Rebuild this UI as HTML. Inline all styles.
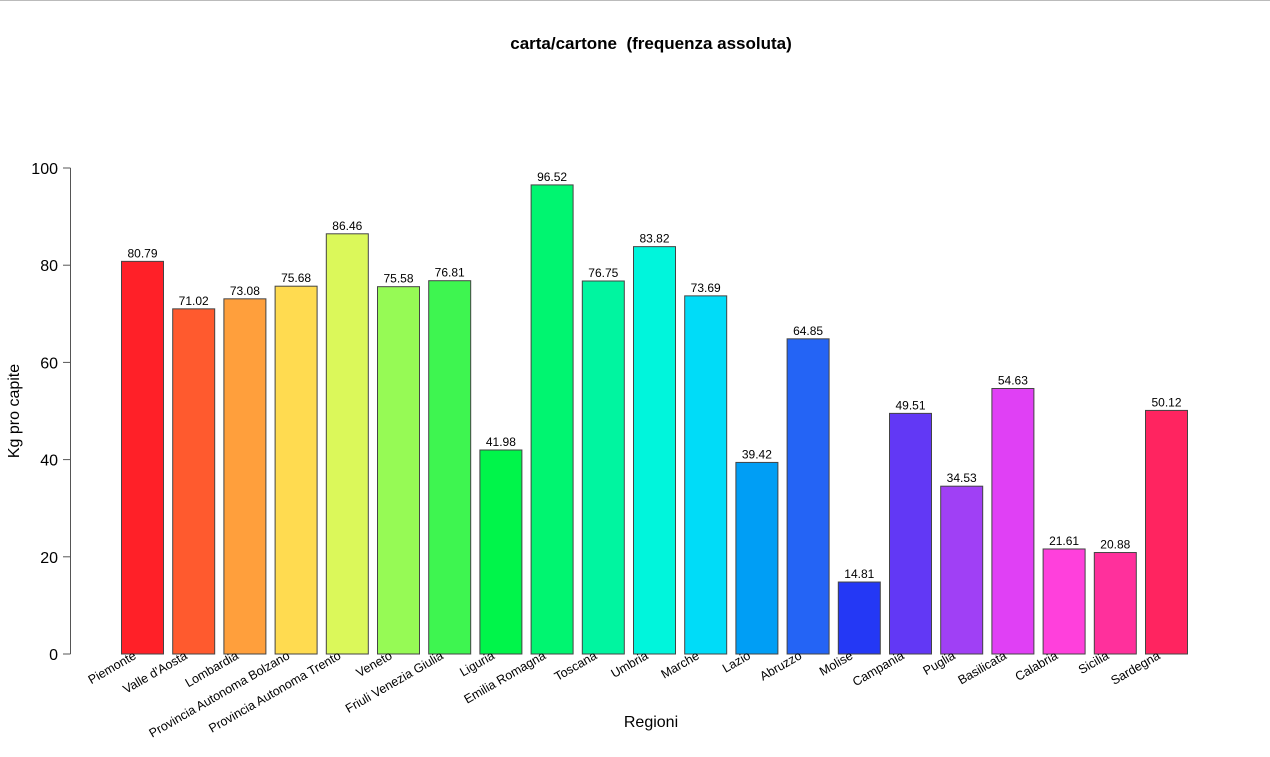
<!DOCTYPE html>
<html><head><meta charset="utf-8"><style>
html,body{margin:0;padding:0;background:#fff;}
body{width:1270px;height:752px;overflow:hidden;font-family:"Liberation Sans",Arial,sans-serif;}
</style></head><body>
<svg id="chart" width="1270" height="752" xmlns="http://www.w3.org/2000/svg" font-family="Liberation Sans, Arial, sans-serif">
<rect x="0" y="0" width="1270" height="752" fill="#fff"/>
<line x1="0" y1="0.5" x2="1270" y2="0.5" stroke="#bbb"/>
<text x="651" y="49" text-anchor="middle" font-size="17" font-weight="bold" style="white-space:pre">carta/cartone  (frequenza assoluta)</text>
<text x="651" y="727" text-anchor="middle" font-size="16">Regioni</text>
<text transform="translate(19,411) rotate(-90)" text-anchor="middle" font-size="16">Kg pro capite</text>
<g id="yaxis"></g>
<g id="bars"></g>
<g id="xlabels"></g>
</svg>
<script>
const categories=["Piemonte","Valle d'Aosta","Lombardia","Provincia Autonoma Bolzano","Provincia Autonoma Trento","Veneto","Friuli Venezia Giulia","Liguria","Emilia Romagna","Toscana","Umbria","Marche","Lazio","Abruzzo","Molise","Campania","Puglia","Basilicata","Calabria","Sicilia","Sardegna"];
const values=[80.79,71.02,73.08,75.68,86.46,75.58,76.81,41.98,96.52,76.75,83.82,73.69,39.42,64.85,14.81,49.51,34.53,54.63,21.61,20.88,50.12];
const colors=["#ff2028","#ff5a2e","#ff9f3c","#ffdb50","#dbf85a","#96fa55","#3ef550","#00f54a","#00f570","#00f5a0","#00f5dc","#00dcf8","#009ef5","#2464f5","#2438f5","#6238f5","#a040f5","#e040f5","#ff40dc","#ff309c","#ff2460"];
const yTicks=[0,20,40,60,80,100];
const NS="http://www.w3.org/2000/svg";
const y0=654,yTop=168,yMax=100;
const yScale=v=>y0-(v/yMax)*(y0-yTop);
const xStart=121,step=51.2,barW=42;
const xScale=i=>xStart+i*step;
function mk(tag,attrs,parent){const e=document.createElementNS(NS,tag);for(const k in attrs)e.setAttribute(k,attrs[k]);parent.appendChild(e);return e;}
const ya=document.getElementById('yaxis');
let l=mk('line',{x1:70.5,x2:70.5,y1:yScale(0),y2:yScale(100),stroke:'#555'},ya);


yTicks.forEach(t=>{
 const tk=mk('line',{x1:63,x2:70.5,y1:yScale(t),y2:yScale(t),stroke:'#555'},ya);
 
 
 const tx=mk('text',{x:58,y:yScale(t)+6,'text-anchor':'end','font-size':16},ya);
 tx.textContent=t;
 
 
});
const bg=document.getElementById('bars');
const xl=document.getElementById('xlabels');
values.forEach((v,i)=>{
 const x=xScale(i);
 const r=mk('rect',{x:x+0.5,y:yScale(v),width:barW,height:y0-yScale(v),fill:colors[i],stroke:'#444','stroke-width':1},bg);
 
 
 const vt=mk('text',{x:x+barW/2+0.5,y:yScale(v)-4,'text-anchor':'middle','font-size':12},bg);
 vt.textContent=v.toFixed(2);
 
 
 const cx=x+barW/2-5, cy=658;
 const lt=mk('text',{x:0,y:0,'text-anchor':'end','font-size':12.5,transform:`translate(${cx},${cy}) rotate(-30)`},xl);
 lt.textContent=categories[i];
 
 
});
</script>
</body></html>
